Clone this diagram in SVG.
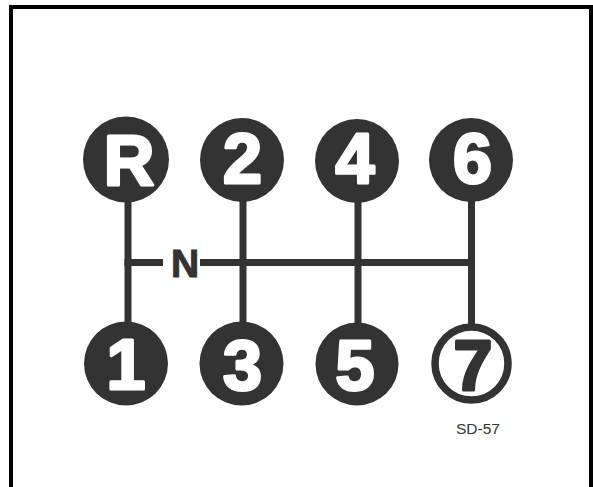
<svg xmlns="http://www.w3.org/2000/svg" width="593" height="487" viewBox="0 0 593 487">
  <style>
    .frame { fill: none; stroke: #000; stroke-width: 4; }
    .rod { fill: none; stroke: #333; stroke-width: 7; stroke-linecap: butt; }
    .knob { fill: #333; }
    .ring { fill: #fff; stroke: #333; stroke-width: 7.5; }
    .gear { font-family: "Liberation Sans", Arial, sans-serif; font-weight: bold; font-size: 70px; text-anchor: middle; fill: #fff; stroke: #fff; stroke-width: 3; stroke-linejoin: round; }
    .gear.dark { fill: #333; stroke: #333; }
    .neutral { font-family: "Liberation Sans", Arial, sans-serif; font-weight: bold; font-size: 39px; text-anchor: middle; fill: #333; stroke: #333; stroke-width: 1; }
    .ref { font-family: "Liberation Sans", Arial, sans-serif; font-size: 15.5px; fill: #333; }
  </style>
  <rect width="593" height="487" fill="#fff"/>
  <!-- page frame, open at the bottom -->
  <path class="frame" d="M11,487 V7 H591 V487"/>

  <!-- shift gate rods -->
  <g id="connectors">
    <line class="rod" x1="128" y1="195" x2="128" y2="328"/>
    <line class="rod" x1="243" y1="195" x2="243" y2="328"/>
    <line class="rod" x1="358" y1="195" x2="358" y2="328"/>
    <line class="rod" x1="471.5" y1="195" x2="471.5" y2="328"/>
    <line class="rod" x1="124.5" y1="262.5" x2="163" y2="262.5"/>
    <line class="rod" x1="200" y1="262.5" x2="475" y2="262.5"/>
  </g>

  <g id="neutral">
    <text class="neutral" x="185" y="277">N</text>
  </g>

  <g id="gear-R">
    <circle class="knob" cx="126" cy="159.5" r="43"/>
    <text class="gear" x="129" y="185" font-size="76">R</text>
  </g>
  <g id="gear-2">
    <circle class="knob" cx="242" cy="160" r="42"/>
    <text class="gear" x="242.5" y="182.5">2</text>
  </g>
  <g id="gear-4">
    <circle class="knob" cx="357" cy="161" r="42"/>
    <text class="gear" x="355" y="182.5">4</text>
  </g>
  <g id="gear-6">
    <circle class="knob" cx="471" cy="160" r="42"/>
    <text class="gear" x="472.5" y="182.5">6</text>
  </g>
  <g id="gear-1">
    <circle class="knob" cx="126" cy="363.5" r="42"/>
    <text class="gear" x="126" y="389">1</text>
  </g>
  <g id="gear-3">
    <circle class="knob" cx="241.5" cy="363.5" r="42"/>
    <text class="gear" x="242.5" y="390">3</text>
  </g>
  <g id="gear-5">
    <circle class="knob" cx="357" cy="364" r="41.5"/>
    <text class="gear" x="355" y="390">5</text>
  </g>
  <g id="gear-7">
    <circle class="ring" cx="471.5" cy="363.5" r="36.5"/>
    <text class="gear dark" x="473" y="390">7</text>
  </g>

  <text class="ref" x="456" y="433.5">SD-57</text>
</svg>
